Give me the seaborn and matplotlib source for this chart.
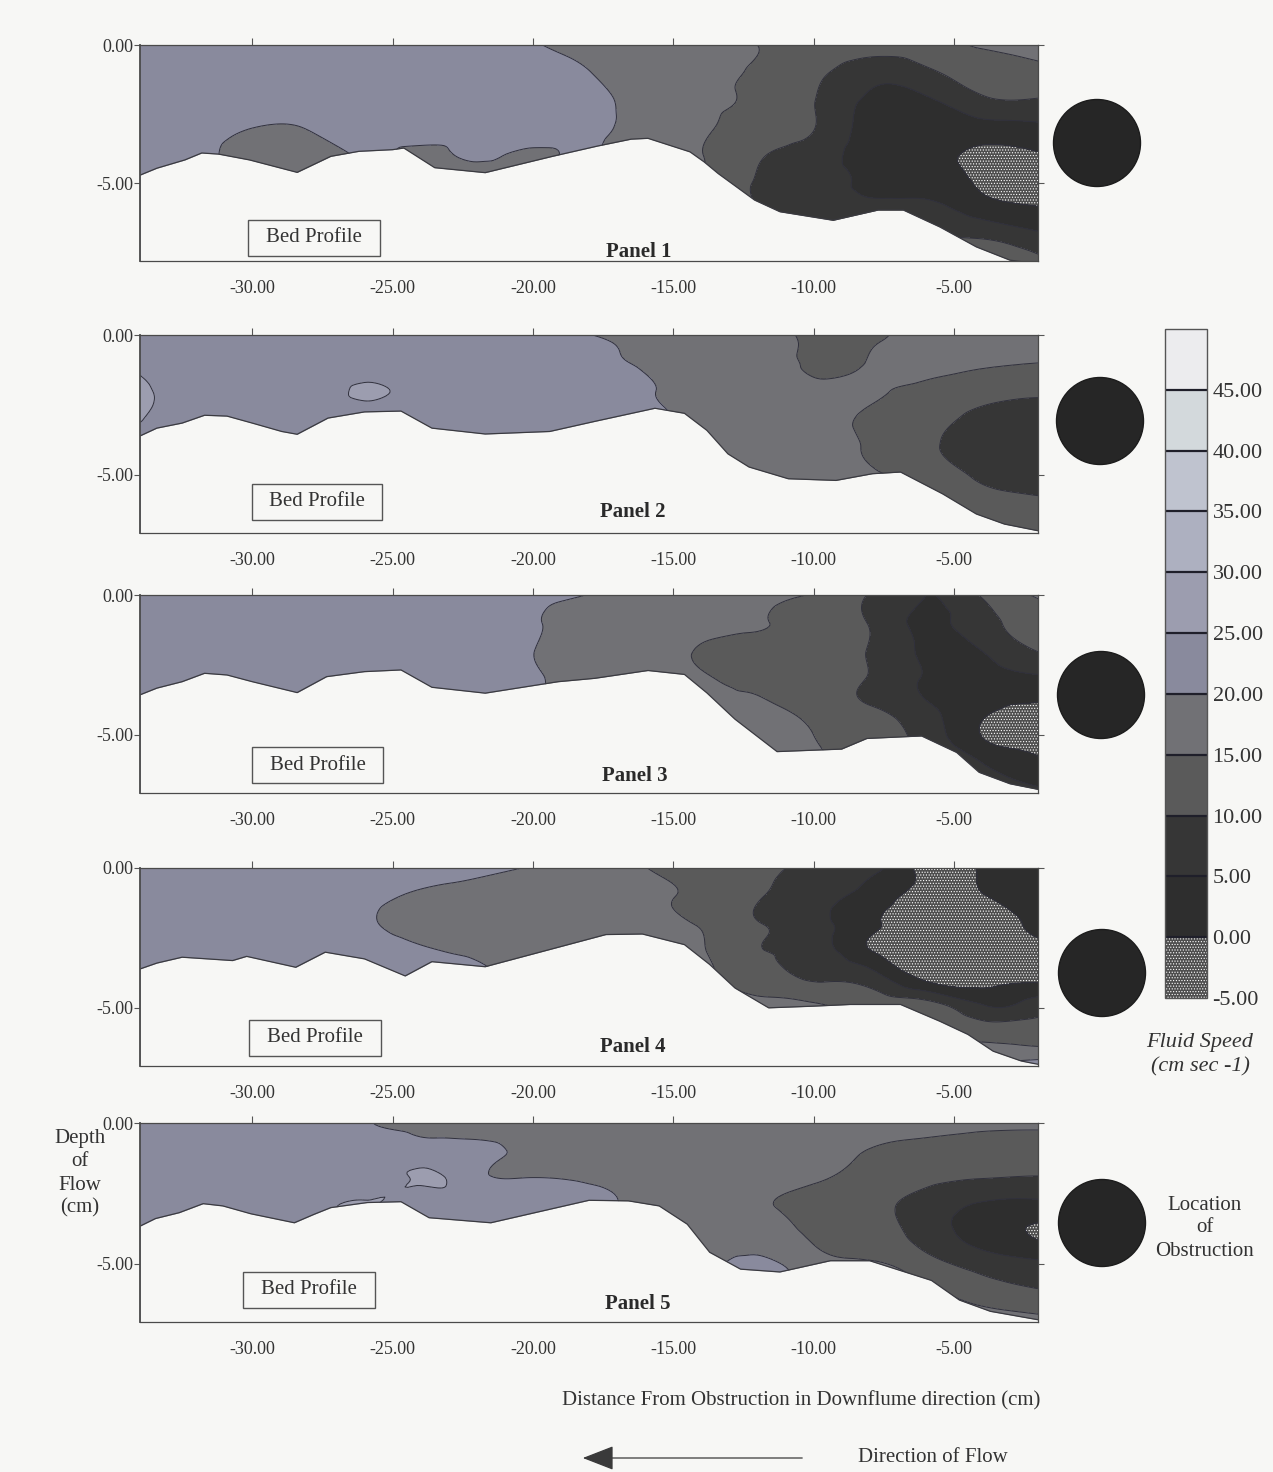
import numpy as np
import matplotlib
matplotlib.use("Agg")
import matplotlib.pyplot as plt
import matplotlib.tri as mtri
from matplotlib.patches import Rectangle, Ellipse, FancyArrowPatch
import seaborn as sns

sns.set_style("white")
plt.rcParams["font.family"] = ["Liberation Serif", "DejaVu Serif"]
plt.rcParams["axes.unicode_minus"] = False
plt.rcParams["hatch.color"] = "#858585"
plt.rcParams["hatch.linewidth"] = 0.5

# ---------------------------------------------------------------- data
# measurement grid: distance from obstruction (cm) and depth (cm)
x_nodes = [-34, -32, -30, -28, -26, -24, -22, -20, -18, -16, -14, -12, -10, -8, -6, -4, -2]
depth_p1 = [0, -1, -2, -3, -4, -5, -6, -7, -8]
depth_p2_5 = [0, -1, -2, -3, -4, -5, -6, -7]

# fluid speed (cm/s), one row per depth, one column per x node
speed_p1 = [
    [22, 22, 22, 22, 22, 22, 22, 20.3, 18.8, 17.5, 16.5, 15, 13, 12, 12.5, 15.5, 17],
    [22, 22, 22, 22, 22, 22, 22, 21.5, 20.1, 18, 16.5, 14.5, 11.5, 7, 9, 12, 13.5],
    [22, 22, 22, 22, 22, 22, 22, 22, 21, 18.5, 16, 14.3, 10.2, 4, 4, 9, 9.5],
    [22, 22, 20, 20.2, 22, 22, 22, 22, 21, 18.5, 15.8, 13, 10.2, 3, 2, 3, 4],
    [22, 22, 17, 17, 20.5, 19, 20.5, 19.5, 20.5, 18, 15.2, 10.5, 7.5, 3, 2, -1.2, -0.5],
    [22, 22, 17, 17, 20, 19, 18, 19, 20, 18, 15, 9.5, 7, 4, 3, -0.8, -1],
    [22, 22, 19, 19, 21, 20, 19, 20, 20, 18, 15, 10, 8.5, 7, 7, 3, 0.5],
    [22, 22, 22, 22, 22, 22, 22, 22, 20, 18, 15, 11, 10, 10, 10, 10, 7],
    [22, 22, 22, 22, 22, 22, 22, 22, 20, 18, 15, 12, 12, 12, 12, 13, 11],
]
speed_p2 = [
    [24, 22, 22, 22, 22, 22, 22, 22, 20.1, 19, 18, 18, 14, 14, 17, 16.5, 16],
    [24, 22, 22, 22, 22, 22, 22, 22, 21, 19.5, 18.5, 18, 14, 15.3, 16.5, 15.5, 15],
    [26.5, 22, 22, 22, 25.8, 22, 22, 22, 21.5, 20.3, 19, 18, 16.5, 15.5, 14, 12, 11],
    [25.3, 22, 22, 22, 22, 22, 22, 22, 22, 21, 19, 18, 17, 14.3, 12, 8.5, 7],
    [22, 22, 22, 22, 22, 22, 22, 22, 22, 21, 19, 18, 17, 14.5, 11, 7.5, 6],
    [22, 22, 22, 22, 22, 22, 22, 22, 22, 21, 19, 18, 17, 15.5, 13, 9, 7],
    [22, 22, 22, 22, 22, 22, 22, 22, 22, 21, 19, 18, 17, 16, 14, 12, 11],
    [22, 22, 22, 22, 22, 22, 22, 22, 22, 21, 19, 18, 17, 16, 14, 14, 14],
]
speed_p3 = [
    [22, 22, 22, 22, 22, 22, 22, 21, 19.9, 17.5, 17, 16.5, 14.7, 9.7, 5, 10.5, 15.5],
    [22, 22, 22, 22, 22, 22, 22, 20.4, 18.5, 18, 16, 15.3, 13, 9.7, 4, 8, 13],
    [22, 22, 22, 22, 22, 22, 22, 20.1, 18, 18, 14.5, 13, 12, 9.7, 4, 5, 10.2],
    [22, 22, 22, 22, 22, 22, 22, 20.5, 18.5, 18, 15.5, 14, 12, 9.7, 4.5, 3, 4],
    [22, 22, 22, 22, 22, 22, 22, 21, 19, 18, 16, 16, 13, 10.2, 6, 0.8, -0.3],
    [22, 22, 22, 22, 22, 22, 22, 22, 19, 18, 16, 17, 15, 12, 8, -0.2, -1.5],
    [22, 22, 22, 22, 22, 22, 22, 22, 19, 18, 16, 17, 16, 13, 10.5, 5, 0.5],
    [22, 22, 22, 22, 22, 22, 22, 22, 19, 18, 16, 17, 16, 13, 12, 9, 6],
]
speed_p4 = [
    [22, 22, 22, 22, 22, 22, 21, 19.8, 18.5, 15.1, 13.5, 11.5, 9, 7, -1.5, 0.5, 4],
    [22, 22, 22, 22, 21, 19.5, 18.5, 18, 17.5, 16, 14, 10.5, 7, 3, -1.5, -0.3, 3],
    [22, 22, 22, 22, 20.6, 18.5, 18, 17.5, 17, 16.5, 14.5, 10.3, 7, 1, -2, -2, 1],
    [22, 22, 22, 22, 22, 20.5, 19.5, 18, 17, 17, 15.5, 10.5, 8, 0.5, -2.5, -2.5, -1.5],
    [22, 22, 22, 22, 22, 22, 21, 19, 17.5, 17, 16, 13, 9.8, 8, -0.5, -2, -1],
    [22, 22, 22, 22, 22, 22, 22, 20.5, 18, 17, 16, 16, 16, 14, 13, 6, 8],
    [22, 22, 22, 22, 22, 22, 22, 20.5, 18, 17, 16, 16, 16, 17, 16, 14, 13],
    [22, 22, 22, 22, 22, 22, 22, 20.5, 18, 17, 16, 16, 16, 17, 18, 20, 22],
]
speed_p5 = [
    [22, 22, 22, 22, 20.2, 19.2, 18.5, 18, 17.5, 17, 17, 17, 16.5, 16, 16, 16, 16],
    [22, 22, 22, 22, 22, 22, 21, 19, 18, 17.5, 17, 16.5, 16, 14.9, 14, 13, 12.5],
    [22, 22, 22, 22, 20.8, 25.7, 21.5, 20.3, 19.5, 18.5, 17.5, 16.5, 15.5, 13, 11, 9.9, 9.5],
    [22, 22, 22, 22.5, 25.7, 20.8, 22, 21.5, 20.5, 19.5, 18, 16, 13, 11, 8, 4, 3],
    [22, 22, 22, 22, 22, 22, 22, 22, 22, 20, 18, 18, 14.5, 12.5, 8, 3, -0.5],
    [22, 22, 22, 22, 22, 22, 22, 22, 22, 20, 19, 21, 17, 15.5, 12, 8, 6],
    [22, 22, 22, 22, 22, 22, 22, 22, 22, 20, 19, 22, 19, 18, 16, 12.5, 10.5],
    [22, 22, 22, 22, 22, 22, 22, 22, 22, 20, 19, 22, 20, 19, 18, 17, 16],
]

# bed profiles (x in cm, elevation in cm)
bed_x1 = [-34, -33.4, -32.4, -31.8, -31.2, -30.1, -28.4, -27.2, -26.2, -25.0, -24.6, -23.5, -21.7,
          -19.3, -17.7, -16.5, -15.9, -14.4, -13.9, -13.4, -12.1, -11.2, -9.3, -7.7, -6.8, -5.5,
          -4.2, -3.0, -2.0]
bed_y1 = [-4.7, -4.45, -4.15, -3.9, -3.94, -4.15, -4.6, -4.02, -3.84, -3.78, -3.72, -4.43, -4.61,
          -4.02, -3.65, -3.4, -3.37, -3.86, -4.22, -4.64, -5.6, -6.02, -6.33, -5.96, -5.96, -6.57,
          -7.29, -7.77, -7.9]
bed_x2 = [-34, -33.4, -32.5, -31.7, -30.9, -30.0, -28.95, -28.4, -27.3, -26.0, -24.7, -23.6, -21.7,
          -19.4, -17.8, -15.65, -14.6, -13.8, -13.05, -12.3, -10.9, -9.2, -7.9, -6.9, -5.4, -4.2,
          -3.2, -2.0]
bed_y2 = [-3.61, -3.33, -3.15, -2.87, -2.9, -3.15, -3.45, -3.55, -2.97, -2.75, -2.72, -3.33, -3.54,
          -3.45, -3.09, -2.62, -2.8, -3.41, -4.25, -4.72, -5.14, -5.2, -4.96, -4.9, -5.68, -6.4,
          -6.76, -7.0]
bed_x3 = [-34, -33.4, -32.5, -31.7, -30.9, -30.0, -28.4, -27.35, -26.0, -24.7, -23.6, -21.7, -19.1,
          -17.8, -15.9, -14.6, -13.8, -12.8, -11.3, -9.0, -8.1, -6.15, -4.9, -4.1, -3.0, -2.0]
bed_y3 = [-3.57, -3.33, -3.1, -2.8, -2.86, -3.1, -3.49, -2.92, -2.74, -2.68, -3.3, -3.51, -3.1,
          -2.98, -2.7, -2.84, -3.5, -4.44, -5.6, -5.51, -5.13, -5.04, -5.63, -6.34, -6.75, -6.95]
bed_x4 = [-34, -33.4, -32.5, -30.7, -30.2, -28.45, -27.4, -26.0, -24.55, -23.6, -21.7, -17.4, -16.1,
          -14.6, -13.7, -12.8, -11.6, -10.0, -8.7, -6.9, -5.5, -4.5, -3.6, -2.6, -2.0]
bed_y4 = [-3.61, -3.4, -3.19, -3.31, -3.16, -3.55, -3.01, -3.25, -3.86, -3.35, -3.53, -2.38, -2.36,
          -2.74, -3.45, -4.29, -5.0, -4.94, -4.88, -4.88, -5.48, -5.95, -6.55, -6.9, -7.02]
bed_x5 = [-34, -33.45, -32.6, -31.75, -31.05, -30.05, -28.5, -27.8, -27.2, -25.9, -24.7, -23.7, -21.5,
          -18.0, -16.6, -15.5, -14.5, -13.7, -12.6, -11.2, -9.4, -8.0, -5.8, -4.8, -3.7, -2.0]
bed_y5 = [-3.67, -3.4, -3.19, -2.87, -2.95, -3.23, -3.55, -3.25, -3.01, -2.83, -2.8, -3.37, -3.55,
          -2.75, -2.77, -2.95, -3.6, -4.6, -5.2, -5.3, -4.9, -4.9, -5.6, -6.3, -6.7, -7.0]

speed_levels = [-5, 0, 5, 10, 15, 20, 25, 30, 35, 40, 45, 50]
band_colors = ["#4e4e4e", "#2e2e2e", "#363636", "#5a5a5a", "#717175", "#898a9d",
               "#9c9daf", "#adb0c0", "#bfc3cf", "#d3d9dc", "#ececee"]
band_hatches = ["......", None, None, None, None, None, None, None, None, None, None]

x_tick_values = [-30, -25, -20, -15, -10, -5]
x_tick_labels = ["-30.00", "-25.00", "-20.00", "-15.00", "-10.00", "-5.00"]
y_tick_values = [0, -5]
y_tick_labels = ["0.00", "-5.00"]

# ---------------------------------------------------------------- layout
W, H = 1273, 1472
BG = "#f7f7f5"
INK = "#333333"
fig = plt.figure(figsize=(W / 100, H / 100), dpi=100, facecolor=BG)


def fx(px):
    return px / W


def fy(py):
    return 1 - py / H


panels = [
    dict(depth=depth_p1, speed=speed_p1, bx=bed_x1, by=bed_y1, top=45, bottom=261, ymin=-7.8,
         box=(248, 220, 380, 256), name="Panel 1", name_xy=(639, 252), circ=(1097, 143)),
    dict(depth=depth_p2_5, speed=speed_p2, bx=bed_x2, by=bed_y2, top=335, bottom=533, ymin=-7.08,
         box=(252, 484, 382, 520), name="Panel 2", name_xy=(633, 512), circ=(1100, 421)),
    dict(depth=depth_p2_5, speed=speed_p3, bx=bed_x3, by=bed_y3, top=595, bottom=793, ymin=-7.08,
         box=(252, 747, 383, 783), name="Panel 3", name_xy=(635, 776), circ=(1101, 695)),
    dict(depth=depth_p2_5, speed=speed_p4, bx=bed_x4, by=bed_y4, top=868, bottom=1066, ymin=-7.08,
         box=(249, 1020, 381, 1056), name="Panel 4", name_xy=(633, 1047), circ=(1102, 973)),
    dict(depth=depth_p2_5, speed=speed_p5, bx=bed_x5, by=bed_y5, top=1123, bottom=1322, ymin=-7.08,
         box=(243, 1272, 375, 1308), name="Panel 5", name_xy=(638, 1304), circ=(1102, 1223)),
]

AX_L, AX_R = 140, 1038
first_cs = None

for p in panels:
    ax = fig.add_axes([fx(AX_L), fy(p["bottom"]), fx(AX_R - AX_L), (p["bottom"] - p["top"]) / H])
    ax.set_facecolor(BG)

    X, Y = np.meshgrid(np.array(x_nodes, float), np.array(p["depth"], float))
    Z = np.array(p["speed"], float).ravel()
    tri = mtri.Triangulation(X.ravel(), Y.ravel())
    interp = mtri.CubicTriInterpolator(tri, Z, kind="min_E")
    tri_f, z_f = mtri.UniformTriRefiner(tri).refine_field(Z, triinterpolator=interp, subdiv=4)

    cs = ax.tricontourf(tri_f, z_f, levels=speed_levels, colors=band_colors,
                        hatches=band_hatches, zorder=1)
    ax.tricontour(tri_f, z_f, levels=speed_levels[1:-1], colors="#30303c",
                  linewidths=0.7, zorder=2)
    if first_cs is None:
        first_cs = cs

    # bed: everything below the profile is sediment
    ax.fill_between(p["bx"], p["by"], p["ymin"] - 1, color=BG, zorder=3, linewidth=0)
    sns.lineplot(x=p["bx"], y=p["by"], ax=ax, color="#3a3a40", linewidth=0.9,
                 sort=False, estimator=None, zorder=4)

    ax.set_xlim(-34, -2)
    ax.set_ylim(p["ymin"], 0)
    ax.set_xticks(x_tick_values)
    ax.set_xticklabels(x_tick_labels)
    ax.set_yticks(y_tick_values)
    ax.set_yticklabels(y_tick_labels)
    ax.set_xlabel("")
    ax.set_ylabel("")
    ax.tick_params(axis="x", top=True, bottom=False, labeltop=False, labelbottom=True,
                   direction="out", length=5, width=0.8, color="#555555", pad=9,
                   labelsize=13, labelcolor=INK)
    ax.tick_params(axis="y", left=True, right=True, labelleft=True, labelright=False,
                   direction="out", length=4, width=0.8, color="#555555", pad=1,
                   labelsize=13, labelcolor=INK)
    for side, sp in ax.spines.items():
        sp.set_visible(True)
        sp.set_color("#4a4a4a")
        sp.set_linewidth(1.3 if side == "left" else 0.9)
        sp.set_zorder(5)

    # "Bed Profile" label box and panel name
    x0, y0, x1, y1 = p["box"]
    fig.add_artist(Rectangle((fx(x0), fy(y1)), fx(x1 - x0), (y1 - y0) / H,
                             transform=fig.transFigure, fill=False,
                             edgecolor="#555555", linewidth=1.0))
    fig.text(fx((x0 + x1) / 2), fy((y0 + y1) / 2), "Bed Profile", ha="center", va="center",
             fontsize=15, color=INK)
    fig.text(fx(p["name_xy"][0]), fy(p["name_xy"][1]), p["name"], ha="center", va="center",
             fontsize=15, fontweight="bold", color="#2a2a2a")

    # the obstruction
    cx, cy = p["circ"]
    fig.add_artist(Ellipse((fx(cx), fy(cy)), width=87 / W, height=87 / H,
                           transform=fig.transFigure, facecolor="#262626",
                           edgecolor="#1c1c1c", linewidth=1.0))

# ---------------------------------------------------------------- colour scale
cax = fig.add_axes([fx(1165), fy(998), fx(42), (998 - 329) / H])
cbar = fig.colorbar(first_cs, cax=cax, drawedges=True)
cbar.set_ticks(speed_levels[:-1])
cbar.set_ticklabels([f"{v:.2f}" for v in speed_levels[:-1]])
cbar.ax.tick_params(length=0, pad=4, labelsize=16, labelcolor=INK)
cbar.outline.set_edgecolor("#555555")
cbar.outline.set_linewidth(1.0)
cbar.dividers.set_color("#1f1f2a")
cbar.dividers.set_linewidth(1.6)

fig.text(fx(1200), fy(1043), "Fluid Speed", ha="center", va="center", fontsize=16,
         style="italic", color=INK)
fig.text(fx(1200), fy(1067), "(cm sec -1)", ha="center", va="center", fontsize=16,
         style="italic", color=INK)

# ---------------------------------------------------------------- annotations
for txt, yy in [("Depth", 1139), ("of", 1161), ("Flow", 1185), ("(cm)", 1208)]:
    fig.text(fx(80), fy(yy), txt, ha="center", va="center", fontsize=15, color=INK)
for txt, yy in [("Location", 1205), ("of", 1228), ("Obstruction", 1252)]:
    fig.text(fx(1205), fy(yy), txt, ha="center", va="center", fontsize=15, color=INK)

fig.text(fx(801), fy(1401), "Distance From Obstruction in Downflume direction (cm)",
         ha="center", va="center", fontsize=15, color=INK)
fig.text(fx(933), fy(1458), "Direction of Flow", ha="center", va="center",
         fontsize=15, color=INK)
fig.add_artist(FancyArrowPatch(
    (fx(805), fy(1458)), (fx(580), fy(1458)), transform=fig.transFigure,
    arrowstyle="-|>,head_length=0.9,head_width=0.35", mutation_scale=22,
    color="#3a3a3a", linewidth=0.9))

fig.savefig("out.png", dpi=100, facecolor=BG)
